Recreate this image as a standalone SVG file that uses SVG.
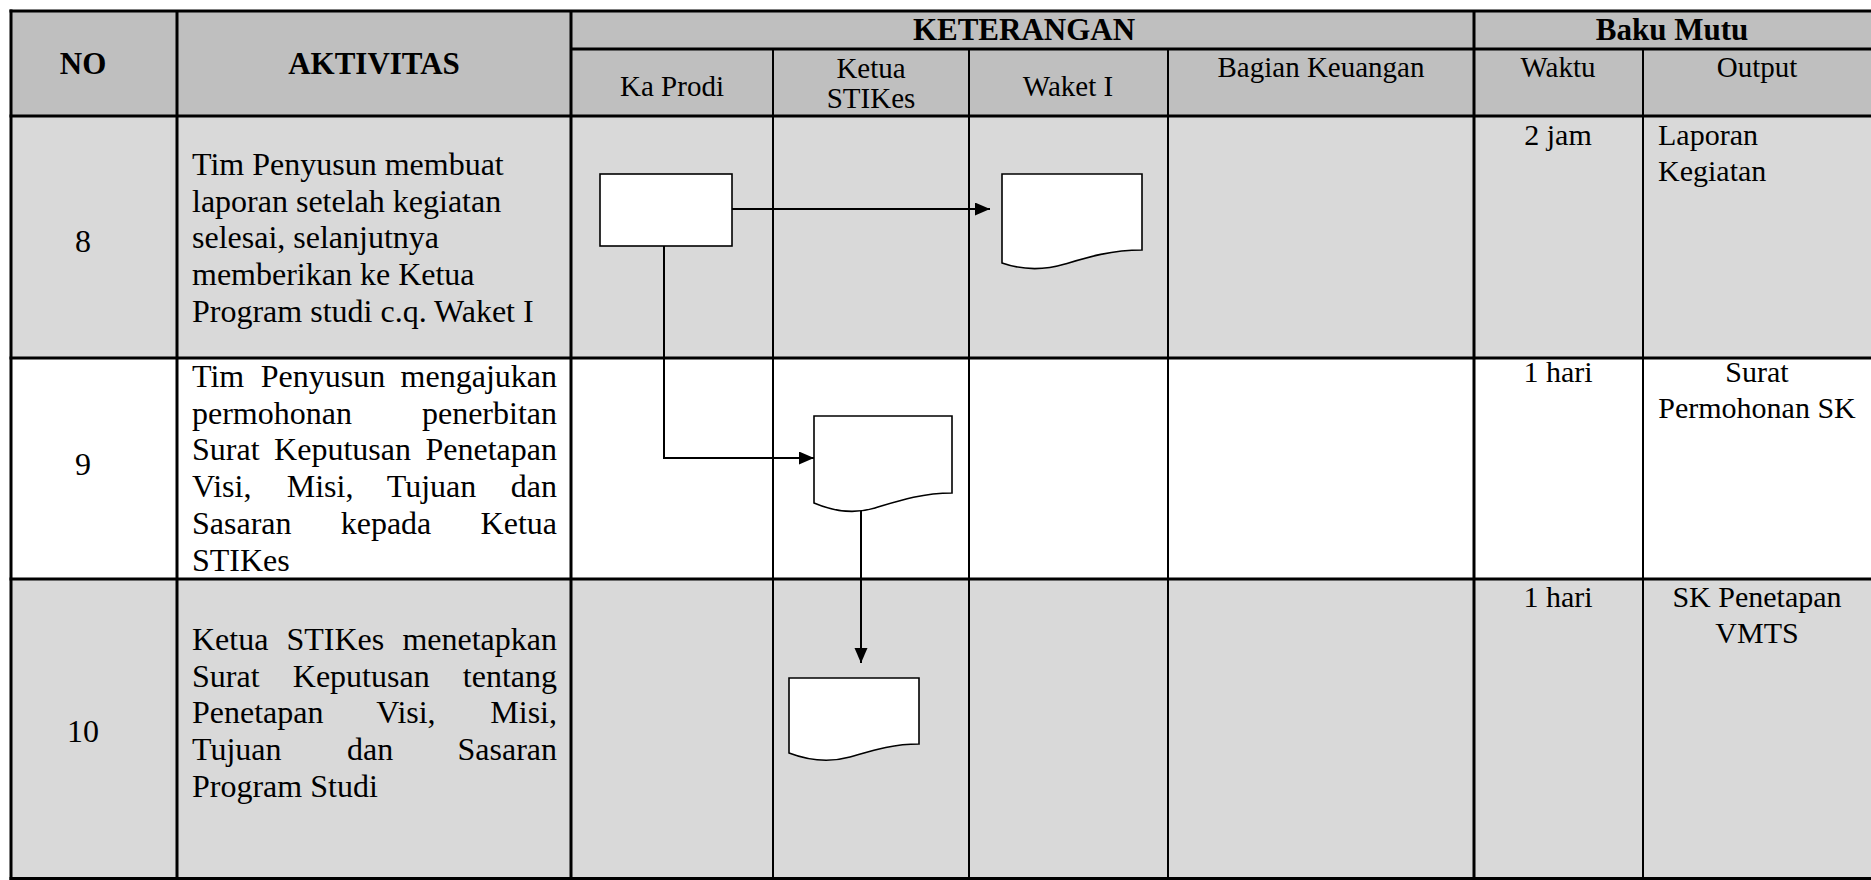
<svg xmlns="http://www.w3.org/2000/svg" width="1871" height="880" viewBox="0 0 1871 880">
<style>
  .t { font-family: "Liberation Serif", "Times New Roman", serif; fill: #000; }
  .hb { font-size: 31px; font-weight: bold; text-anchor: middle; }
  .hs { font-size: 29px; text-anchor: middle; }
  .b { font-size: 32px; }
  .c { font-size: 30px; }
  .m { text-anchor: middle; }
  .e { text-anchor: end; }
  .grid line { stroke: #000; stroke-width: 3; }
  .grid line.thin { stroke-width: 2; }
  .shape { fill: #fff; stroke: #000; stroke-width: 1.6; }
  .conn { fill: none; stroke: #000; stroke-width: 2; }
</style>
<defs>
  <marker id="arrow" markerUnits="userSpaceOnUse" markerWidth="16" markerHeight="14" refX="15" refY="6.5" orient="auto">
    <path d="M0,0 L15,6.5 L0,13 Z" fill="#000"/>
  </marker>
</defs>
<rect x="0" y="0" width="1871" height="880" fill="#fff"/>
<g id="table">
  <rect x="11" y="11" width="1860" height="105" fill="#bfbfbf"/>
  <rect x="11" y="116" width="1860" height="242" fill="#d9d9d9"/>
  <rect x="11" y="358" width="1860" height="221" fill="#ffffff"/>
  <rect x="11" y="579" width="1860" height="300" fill="#d9d9d9"/>
  <g class="grid">
    <line x1="9.5" y1="11" x2="1871" y2="11"/>
    <line x1="571" y1="49" x2="1871" y2="49"/>
    <line x1="9.5" y1="116" x2="1871" y2="116"/>
    <line x1="9.5" y1="358" x2="1871" y2="358"/>
    <line x1="9.5" y1="579" x2="1871" y2="579"/>
    <line x1="9.5" y1="878.5" x2="1871" y2="878.5"/>
    <line x1="11" y1="9.5" x2="11" y2="880"/>
    <line x1="177" y1="11" x2="177" y2="880"/>
    <line x1="571" y1="11" x2="571" y2="880"/>
    <line class="thin" x1="773" y1="49" x2="773" y2="880"/>
    <line class="thin" x1="969" y1="49" x2="969" y2="880"/>
    <line class="thin" x1="1168" y1="49" x2="1168" y2="880"/>
    <line x1="1474" y1="11" x2="1474" y2="880"/>
    <line class="thin" x1="1643" y1="49" x2="1643" y2="880"/>
  </g>
  <g id="header-text">
    <text class="t hb" x="83" y="74">NO</text>
    <text class="t hb" x="374" y="74">AKTIVITAS</text>
    <text class="t hb" x="1024" y="40">KETERANGAN</text>
    <text class="t hb" x="1672" y="40">Baku Mutu</text>
    <text class="t hs" x="672" y="96">Ka Prodi</text>
    <text class="t hs" x="871" y="78">Ketua</text>
    <text class="t hs" x="871" y="108">STIKes</text>
    <text class="t hs" x="1068" y="96">Waket I</text>
    <text class="t hs" x="1321" y="77">Bagian Keuangan</text>
    <text class="t hs" x="1558" y="77">Waktu</text>
    <text class="t hs" x="1757" y="77">Output</text>
  </g>
  <g id="row-8-text">
    <text class="t b m" x="83" y="252">8</text>
    <text class="t b" x="192" y="175">Tim Penyusun membuat</text>
    <text class="t b" x="192" y="211.7">laporan setelah kegiatan</text>
    <text class="t b" x="192" y="248.4">selesai, selanjutnya</text>
    <text class="t b" x="192" y="285.1">memberikan ke Ketua</text>
    <text class="t b" x="192" y="321.8">Program studi c.q. Waket I</text>
    <text class="t c m" x="1558" y="145">2 jam</text>
    <text class="t c" x="1658" y="145">Laporan</text>
    <text class="t c" x="1658" y="181">Kegiatan</text>
  </g>
  <g id="row-9-text">
    <text class="t b m" x="83" y="475">9</text>
    <text class="t b" x="192" y="387">Tim</text>
    <text class="t b" x="260.7" y="387">Penyusun</text>
    <text class="t b e" x="557" y="387">mengajukan</text>
    <text class="t b" x="192" y="423.7">permohonan</text>
    <text class="t b e" x="557" y="423.7">penerbitan</text>
    <text class="t b" x="192" y="460.4">Surat</text>
    <text class="t b" x="274.1" y="460.4">Keputusan</text>
    <text class="t b e" x="557" y="460.4">Penetapan</text>
    <text class="t b" x="192" y="497.1">Visi,</text>
    <text class="t b" x="286.7" y="497.1">Misi,</text>
    <text class="t b" x="386.8" y="497.1">Tujuan</text>
    <text class="t b e" x="557" y="497.1">dan</text>
    <text class="t b" x="192" y="533.8">Sasaran</text>
    <text class="t b" x="340.7" y="533.8">kepada</text>
    <text class="t b e" x="557" y="533.8">Ketua</text>
    <text class="t b" x="192" y="570.5">STIKes</text>
    <text class="t c m" x="1558" y="382">1 hari</text>
    <text class="t c m" x="1757" y="382">Surat</text>
    <text class="t c m" x="1757" y="418">Permohonan SK</text>
  </g>
  <g id="row-10-text">
    <text class="t b m" x="83" y="742">10</text>
    <text class="t b" x="192" y="650">Ketua</text>
    <text class="t b" x="286.5" y="650">STIKes</text>
    <text class="t b e" x="557" y="650">menetapkan</text>
    <text class="t b" x="192" y="686.7">Surat</text>
    <text class="t b" x="292.8" y="686.7">Keputusan</text>
    <text class="t b e" x="557" y="686.7">tentang</text>
    <text class="t b" x="192" y="723.4">Penetapan</text>
    <text class="t b" x="376.2" y="723.4">Visi,</text>
    <text class="t b e" x="557" y="723.4">Misi,</text>
    <text class="t b" x="192" y="760.1">Tujuan</text>
    <text class="t b" x="347" y="760.1">dan</text>
    <text class="t b e" x="557" y="760.1">Sasaran</text>
    <text class="t b" x="192" y="796.8">Program Studi</text>
    <text class="t c m" x="1558" y="607">1 hari</text>
    <text class="t c m" x="1757" y="607">SK Penetapan</text>
    <text class="t c m" x="1757" y="643">VMTS</text>
  </g>
</g>
<g id="connectors">
  <line class="conn" x1="732" y1="209" x2="990" y2="209" marker-end="url(#arrow)"/>
  <polyline class="conn" points="664,246 664,458 814,458" marker-end="url(#arrow)"/>
  <line class="conn" x1="861" y1="509" x2="861" y2="663" marker-end="url(#arrow)"/>
</g>
<g id="node-8-process">
  <rect class="shape" x="600" y="174" width="132" height="72"/>
</g>
<g id="node-8-document">
  <path class="shape" d="M1002,174 H1142 V250 C1110,250 1085,258 1065,264 C1045,270 1025,271 1002,263 Z"/>
</g>
<g id="node-9-document">
  <path class="shape" d="M814,416 H952 V493 C920,493 895,502 875,508 C855,514 835,512 814,503 Z"/>
</g>
<g id="node-10-document">
  <path class="shape" d="M789,678 H919 V744 C890,744 868,752 850,757 C832,762 810,761 789,753 Z"/>
</g>
</svg>
